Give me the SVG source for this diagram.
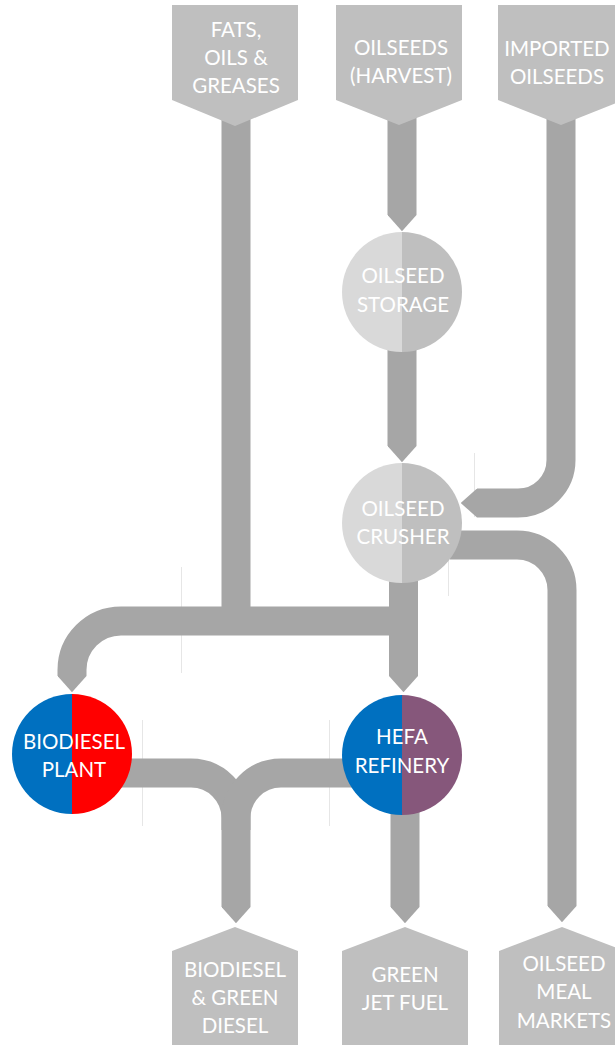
<svg xmlns="http://www.w3.org/2000/svg" width="615" height="1045" viewBox="0 0 615 1045">
  <style>
    .pipe { fill: none; stroke: #a6a6a6; stroke-width: 29; stroke-linecap: butt; stroke-linejoin: miter; }
    .pipe-end { marker-end: url(#tip); }
    .box { fill: #bfbfbf; }
    .guide { stroke: #e6e6e6; stroke-width: 1; }
    .lbl { font-family: Lato, "Liberation Sans", sans-serif; font-size: 20.5px; font-weight: 400; fill: #ffffff; text-anchor: middle; }
    .storeL { fill: #d9d9d9; }
    .storeR { fill: #bfbfbf; }
    .blue { fill: #0070c0; }
    .red { fill: #ff0000; }
    .mauve { fill: #86577b; }
  </style>
  <defs>
    <!-- pointed end of a pipe, sized in units of the pipe width -->
    <marker id="tip" viewBox="0 -0.5 0.56 1" markerWidth="0.56" markerHeight="1" refX="0" refY="0" orient="auto" markerUnits="strokeWidth">
      <path d="M0,-0.5 L0.56,0 L0,0.5 Z" fill="#a6a6a6"/>
    </marker>
  </defs>

  <!-- faint layout guides -->
  <g id="guides">
    <line class="guide" x1="181.5" y1="567" x2="181.5" y2="673"/>
    <line class="guide" x1="142.5" y1="720" x2="142.5" y2="826"/>
    <line class="guide" x1="329.5" y1="720" x2="329.5" y2="826"/>
    <line class="guide" x1="474.5" y1="453" x2="474.5" y2="517"/>
    <line class="guide" x1="448.5" y1="557" x2="448.5" y2="596"/>
  </g>

  <!-- flows -->
  <g id="connectors">
    <path class="pipe" d="M236,110 V621"/>
    <path class="pipe pipe-end" d="M404,621 H121 A49,49 0 0 0 72,670 V676"/>
    <path class="pipe pipe-end" d="M403.5,570 V676"/>
    <path class="pipe pipe-end" d="M402,110 V215"/>
    <path class="pipe pipe-end" d="M402,345 V446"/>
    <path class="pipe pipe-end" d="M561,110 V460 A43,43 0 0 1 518,503 H477"/>
    <path class="pipe pipe-end" d="M450,545 H517 A45,45 0 0 1 562,590 V906"/>
    <path class="pipe pipe-end" d="M120,773 H191 A45,45 0 0 1 236,818 V907"/>
    <path class="pipe" d="M360,773 H281 A45,45 0 0 0 236,818 V830"/>
    <path class="pipe pipe-end" d="M405,800 V907"/>
  </g>

  <!-- sources -->
  <g id="fats-oils-greases">
    <polygon class="box" points="172,5 298,5 298,100 235,126 172,100"/>
    <text class="lbl" x="236" y="37">FATS,</text>
    <text class="lbl" x="236" y="65">OILS &amp;</text>
    <text class="lbl" x="236" y="93">GREASES</text>
  </g>
  <g id="oilseeds-harvest">
    <polygon class="box" points="336,5 462,5 462,100 399,125 336,100"/>
    <text class="lbl" x="401" y="55">OILSEEDS</text>
    <text class="lbl" x="401" y="83">(HARVEST)</text>
  </g>
  <g id="imported-oilseeds">
    <polygon class="box" points="498,5 624,5 624,100 561,125 498,100"/>
    <text class="lbl" x="557" y="56">IMPORTED</text>
    <text class="lbl" x="557" y="84">OILSEEDS</text>
  </g>

  <!-- processing -->
  <g id="oilseed-storage">
    <path class="storeL" d="M402,232 A60,60 0 0 0 402,352 Z"/>
    <path class="storeR" d="M402,232 A60,60 0 0 1 402,352 Z"/>
    <text class="lbl" x="403" y="283">OILSEED</text>
    <text class="lbl" x="403" y="312">STORAGE</text>
  </g>
  <g id="oilseed-crusher">
    <path class="storeL" d="M402,463 A60,60 0 0 0 402,583 Z"/>
    <path class="storeR" d="M402,463 A60,60 0 0 1 402,583 Z"/>
    <text class="lbl" x="403" y="516">OILSEED</text>
    <text class="lbl" x="403" y="544">CRUSHER</text>
  </g>
  <g id="biodiesel-plant">
    <path class="blue" d="M72,694 A60,60 0 0 0 72,814 Z"/>
    <path class="red" d="M72,694 A60,60 0 0 1 72,814 Z"/>
    <text class="lbl" x="74" y="749">BIODIESEL</text>
    <text class="lbl" x="74" y="777">PLANT</text>
  </g>
  <g id="hefa-refinery">
    <path class="blue" d="M402,695 A60,60 0 0 0 402,815 Z"/>
    <path class="mauve" d="M402,695 A60,60 0 0 1 402,815 Z"/>
    <text class="lbl" x="402" y="744">HEFA</text>
    <text class="lbl" x="402" y="773">REFINERY</text>
  </g>

  <!-- products -->
  <g id="biodiesel-green-diesel">
    <polygon class="box" points="172,951 235,927 298,951 298,1045 172,1045"/>
    <text class="lbl" x="235" y="977">BIODIESEL</text>
    <text class="lbl" x="235" y="1005">&amp; GREEN</text>
    <text class="lbl" x="235" y="1033">DIESEL</text>
  </g>
  <g id="green-jet-fuel">
    <polygon class="box" points="342,951 405,927 468,951 468,1045 342,1045"/>
    <text class="lbl" x="405" y="982">GREEN</text>
    <text class="lbl" x="405" y="1010">JET FUEL</text>
  </g>
  <g id="oilseed-meal-markets">
    <polygon class="box" points="499,951 562,927 625,951 625,1045 499,1045"/>
    <text class="lbl" x="564" y="971">OILSEED</text>
    <text class="lbl" x="564" y="999">MEAL</text>
    <text class="lbl" x="564" y="1028">MARKETS</text>
  </g>
</svg>
